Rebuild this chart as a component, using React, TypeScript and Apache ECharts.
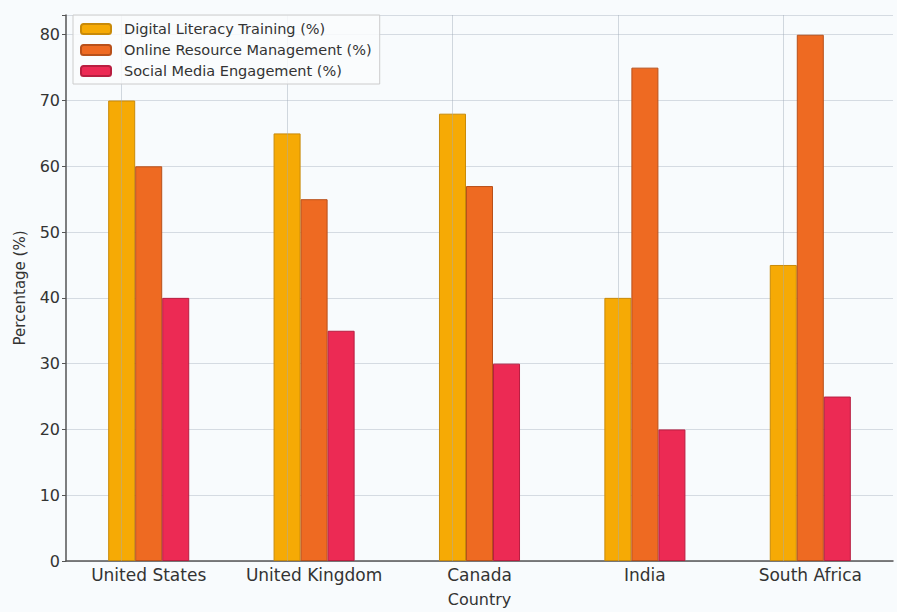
import React, { useEffect, useRef } from "react";
import * as echarts from "echarts";

const countries = ["United States", "United Kingdom", "Canada", "India", "South Africa"];
const seriesNames = [
  "Digital Literacy Training (%)",
  "Online Resource Management (%)",
  "Social Media Engagement (%)",
];
const digitalLiteracy = [70, 65, 68, 40, 45];
const onlineResource = [60, 55, 57, 75, 80];
const socialMedia = [40, 35, 30, 20, 25];
const yTicks = [0, 10, 20, 30, 40, 50, 60, 70, 80];

const colors = ["#F6AA05", "#EE6A22", "#EC2A54"];
const borders = ["#C98A08", "#B8501A", "#B81E40"];
const FONT = "DejaVu Sans";

export default function App() {
  const ref = useRef<HTMLDivElement>(null);
  useEffect(() => {
    document.body.style.margin = "0";
    if (!ref.current) return;
    const chart = echarts.init(ref.current, undefined, { renderer: "svg" });
    const values = [digitalLiteracy, onlineResource, socialMedia];
    const series: any[] = values.map((v, i) => ({
      name: seriesNames[i],
      type: "bar",
      data: v,
      barGap: "0%",
      barCategoryGap: "51%",
      itemStyle: { color: colors[i], borderColor: borders[i], borderWidth: 1 },
      z: 2,
    }));
    series[0].markLine = {
      silent: true,
      symbol: "none",
      label: { show: false },
      lineStyle: { color: "rgba(160,170,185,0.45)", width: 1, type: "solid" },
      z: 3,
      data: countries.map((c) => ({ xAxis: c })),
    };
    chart.setOption({
      animation: false,
      backgroundColor: "#F8FBFD",
      textStyle: { fontFamily: FONT },
      grid: { left: 66, right: 4, top: 15, bottom: 50 },
      legend: {
        orient: "vertical",
        left: 73,
        top: 15,
        itemWidth: 30,
        itemHeight: 10,
        itemGap: 5,
        padding: [6, 8, 5, 7],
        borderColor: "#CCCCCC",
        borderWidth: 1,
        backgroundColor: "rgba(250,252,253,0.85)",
        textStyle: {
          fontFamily: FONT,
          fontSize: 14.5,
          lineHeight: 16,
          color: "#333",
          padding: [0, 0, 0, 8],
        },
        data: seriesNames,
      },
      xAxis: {
        type: "category",
        data: countries,
        name: "Country",
        nameLocation: "middle",
        nameGap: 30,
        nameTextStyle: { fontFamily: FONT, fontSize: 16, color: "#333" },
        axisLine: { lineStyle: { color: "#555", width: 1.5 } },
        axisTick: { alignWithLabel: true, length: 4, lineStyle: { color: "#555" } },
        axisLabel: { interval: 0, fontFamily: FONT, fontSize: 17, color: "#333", margin: 5 },
        splitLine: { show: false },
      },
      yAxis: {
        type: "value",
        min: 0,
        max: 83,
        interval: 10,
        name: "Percentage (%)",
        nameLocation: "middle",
        nameGap: 39,
        nameTextStyle: { fontFamily: FONT, fontSize: 15, color: "#333" },
        axisLine: { show: true, lineStyle: { color: "#555", width: 1.5 } },
        axisTick: { show: true, length: 4, lineStyle: { color: "#555" } },
        axisLabel: {
          fontFamily: FONT,
          fontSize: 16,
          color: "#333",
          margin: 6,
          formatter: (v: number) => (yTicks.includes(v) ? String(v) : ""),
        },
        splitLine: { show: true, lineStyle: { color: "#D5DBE2", width: 1 } },
      },
      series,
    });
    return () => chart.dispose();
  }, []);
  return <div ref={ref} style={{ width: 897, height: 612 }} />;
}
